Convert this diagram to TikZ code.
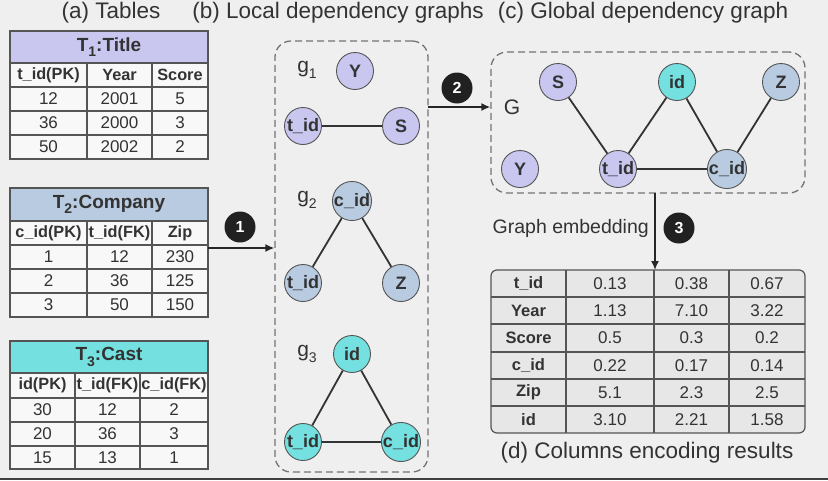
\documentclass[tikz,border=0pt]{standalone}
\usepackage{fontspec}
\setmainfont{Liberation Sans}
\usetikzlibrary{arrows.meta}

\definecolor{bgcol}{HTML}{EFEFEF}
\definecolor{lav}{HTML}{C9C7F0}
\definecolor{steel}{HTML}{B8CBE0}
\definecolor{aqua}{HTML}{74E0E0}
\definecolor{cellcol}{HTML}{F8F8F8}
\definecolor{rescol}{HTML}{E7E7E7}
\definecolor{linecol}{HTML}{555555}
\definecolor{txtcol}{HTML}{333333}

\newcommand{\lowidx}[2]{\raisebox{-0.3em}{\fontsize{#1}{#1}\selectfont #2}}

\tikzset{
	heading/.style={inner sep=0pt, text=txtcol, font=\fontsize{22.5}{22.5}\selectfont},
	glabel/.style={inner sep=0pt, text=txtcol, font=\fontsize{21}{21}\selectfont},
	ttitle/.style={inner sep=0pt, text=txtcol, font=\fontsize{19}{19}\selectfont\bfseries},
	thead/.style={inner sep=0pt, text=txtcol, font=\fontsize{16.3}{16.3}\selectfont\bfseries},
	tval/.style={inner sep=0pt, text=txtcol, font=\fontsize{17}{17}\selectfont},
	rule/.style={draw=linecol, line width=1.2pt},
	vert/.style={circle, draw=linecol, line width=0.9pt, minimum size=37pt, inner sep=0pt, text=txtcol, font=\fontsize{18}{18}\selectfont\bfseries},
	link/.style={draw=black!80, line width=1.8pt},
	groupbox/.style={draw=black!55, dashed, dash pattern=on 7pt off 4pt, line width=1.3pt, rounded corners=16pt, inner sep=0pt},
	flow/.style={draw=black!85, line width=1.6pt, -{Latex[length=9pt,width=8pt]}},
	num/.style={circle, fill=black!87, text=white, minimum size=31pt, inner sep=0pt, font=\fontsize{16}{16}\selectfont\bfseries}
}

\begin{document}
\begin{tikzpicture}[x=1pt,y=-1pt]
	\fill[bgcol] (0,0) rectangle (828,480);
	\useasboundingbox (0,0) rectangle (828,480);
	\fill[black!75] (0,477.5) rectangle (828,480);

	% captions
	\node[heading] (capa) at (111,13) {(a) Tables};
	\node[heading] (capb) at (338,13) {(b) Local dependency graphs};
	\node[heading] (capc) at (643,13) {(c) Global dependency graph};
	\node[heading] (capd) at (647,453) {(d) Columns encoding results};

	% table T1
	\fill[lav] (10,31) rectangle (208,63);
	\fill[cellcol] (10,63) rectangle (208,159);
	\draw[rule] (10,63) -- (208,63) (10,87) -- (208,87) (10,111) -- (208,111) (10,135) -- (208,135);
	\draw[rule] (87,63) -- (87,159) (152,63) -- (152,159);
	\draw[rule] (10,31) rectangle (208,159);
	\node[ttitle] (t1) at (109,47) {T\lowidx{14}{1}:Title};
	\node[thead] (t1h1) at (48.5,75) {t\_id(PK)};
	\node[thead] (t1h2) at (119.5,75) {Year};
	\node[thead] (t1h3) at (180,75) {Score};
	\node[tval] (t1a1) at (48.5,99) {12};  \node[tval] (t1a2) at (119.5,99) {2001};  \node[tval] (t1a3) at (180,99) {5};
	\node[tval] (t1b1) at (48.5,123) {36}; \node[tval] (t1b2) at (119.5,123) {2000}; \node[tval] (t1b3) at (180,123) {3};
	\node[tval] (t1c1) at (48.5,147) {50}; \node[tval] (t1c2) at (119.5,147) {2002}; \node[tval] (t1c3) at (180,147) {2};

	% table T2
	\fill[steel] (10,188) rectangle (208,221);
	\fill[cellcol] (10,221) rectangle (208,317);
	\draw[rule] (10,221) -- (208,221) (10,245) -- (208,245) (10,269) -- (208,269) (10,293) -- (208,293);
	\draw[rule] (87,221) -- (87,317) (152,221) -- (152,317);
	\draw[rule] (10,188) rectangle (208,317);
	\node[ttitle] (t2) at (109,204.5) {T\lowidx{14}{2}:Company};
	\node[thead] (t2h1) at (48.5,233) {c\_id(PK)};
	\node[thead] (t2h2) at (119.5,233) {t\_id(FK)};
	\node[thead] (t2h3) at (180,233) {Zip};
	\node[tval] (t2a1) at (48.5,257) {1}; \node[tval] (t2a2) at (119.5,257) {12}; \node[tval] (t2a3) at (180,257) {230};
	\node[tval] (t2b1) at (48.5,281) {2}; \node[tval] (t2b2) at (119.5,281) {36}; \node[tval] (t2b3) at (180,281) {125};
	\node[tval] (t2c1) at (48.5,305) {3}; \node[tval] (t2c2) at (119.5,305) {50}; \node[tval] (t2c3) at (180,305) {150};

	% table T3
	\fill[aqua] (10,341) rectangle (208,373);
	\fill[cellcol] (10,373) rectangle (208,469);
	\draw[rule] (10,373) -- (208,373) (10,398) -- (208,398) (10,422) -- (208,422) (10,446) -- (208,446);
	\draw[rule] (75,373) -- (75,469) (140,373) -- (140,469);
	\draw[rule] (10,341) rectangle (208,469);
	\node[ttitle] (t3) at (109,357) {T\lowidx{14}{3}:Cast};
	\node[thead] (t3h1) at (42.5,385.5) {id(PK)};
	\node[thead] (t3h2) at (107.5,385.5) {t\_id(FK)};
	\node[thead] (t3h3) at (174,385.5) {c\_id(FK)};
	\node[tval] (t3a1) at (42.5,410) {30};   \node[tval] (t3a2) at (107.5,410) {12};   \node[tval] (t3a3) at (174,410) {2};
	\node[tval] (t3b1) at (42.5,434) {20};   \node[tval] (t3b2) at (107.5,434) {36};   \node[tval] (t3b3) at (174,434) {3};
	\node[tval] (t3c1) at (42.5,457.5) {15}; \node[tval] (t3c2) at (107.5,457.5) {13}; \node[tval] (t3c3) at (174,457.5) {1};

	% local dependency graphs
	\node[groupbox, minimum width=153pt, minimum height=431pt] (local) at (351.5,256.5) {};
	\node[glabel] (lab1) at (307,70) {g\lowidx{14}{1}};
	\node[vert, fill=lav] (g1y) at (355,71) {Y};
	\node[vert, fill=lav] (g1t) at (303,126) {t\_id};
	\node[vert, fill=lav] (g1s) at (401,126) {S};
	\draw[link] (g1t) -- (g1s);

	\node[glabel] (lab2) at (307,200) {g\lowidx{14}{2}};
	\node[vert, fill=steel] (g2c) at (352,201) {c\_id};
	\node[vert, fill=steel] (g2t) at (303,283) {t\_id};
	\node[vert, fill=steel] (g2z) at (401,283) {Z};
	\draw[link] (g2c) -- (g2t) (g2c) -- (g2z);

	\node[glabel] (lab3) at (307,354) {g\lowidx{14}{3}};
	\node[vert, fill=aqua] (g3i) at (352,354) {id};
	\node[vert, fill=aqua] (g3t) at (303,442) {t\_id};
	\node[vert, fill=aqua] (g3c) at (401,442) {c\_id};
	\draw[link] (g3i) -- (g3t) (g3i) -- (g3c) (g3t) -- (g3c);

	% global dependency graph
	\node[groupbox, minimum width=314pt, minimum height=141pt] (glob) at (648,122.5) {};
	\node[glabel] (labG) at (512,107) {G};
	\node[vert, fill=lav] (gs) at (558,82) {S};
	\node[vert, fill=aqua] (gi) at (677,82) {id};
	\node[vert, fill=steel] (gz) at (781,82) {Z};
	\node[vert, fill=lav] (gy) at (520,169) {Y};
	\node[vert, fill=lav] (gt) at (618,169) {t\_id};
	\node[vert, fill=steel] (gc) at (727,169) {c\_id};
	\draw[link] (gs) -- (gt) (gt) -- (gi) (gi) -- (gc) (gc) -- (gz) (gt) -- (gc);

	% arrows and steps
	\coordinate (a1) at (208,248);
	\coordinate (a2) at (428,107);
	\coordinate (a3) at (655,193);
	\coordinate (rtop) at (648,270);
	\draw[flow] (a1) -- (a1 -| local.west);
	\draw[flow] (a2) -- (a2 -| glob.west);
	\draw[flow] (a3) -- (a3 |- rtop);
	\node[num] (n1) at (240,227) {1};
	\node[num] (n2) at (457,88) {2};
	\node[num] (n3) at (679,228) {3};
	\node[glabel, font=\fontsize{19.5}{19.5}\selectfont, anchor=east] (emb) at (649,228) {Graph embedding};

	% encoding results
	\fill[rescol, rounded corners=6pt] (491,270) rectangle (805,433);
	\draw[rule] (491,297) -- (805,297) (491,324) -- (805,324) (491,352) -- (805,352) (491,379) -- (805,379) (491,406) -- (805,406);
	\draw[rule] (566,270) -- (566,433) (654,270) -- (654,433) (729,270) -- (729,433);
	\draw[rule, rounded corners=6pt] (491,270) rectangle (805,433);
	\node[thead, font=\fontsize{16.5}{16.5}\selectfont\bfseries] (r1) at (528.5,283.5) {t\_id};
	\node[thead, font=\fontsize{16.5}{16.5}\selectfont\bfseries] (r2) at (528.5,310.5) {Year};
	\node[thead, font=\fontsize{16.5}{16.5}\selectfont\bfseries] (r3) at (528.5,338) {Score};
	\node[thead, font=\fontsize{16.5}{16.5}\selectfont\bfseries] (r4) at (528.5,365.5) {c\_id};
	\node[thead, font=\fontsize{16.5}{16.5}\selectfont\bfseries] (r5) at (528.5,392.5) {Zip};
	\node[thead, font=\fontsize{16.5}{16.5}\selectfont\bfseries] (r6) at (528.5,419.5) {id};
	\node[tval] (r1a) at (610,283.5) {0.13}; \node[tval] (r1b) at (691.5,283.5) {0.38}; \node[tval] (r1c) at (767,283.5) {0.67};
	\node[tval] (r2a) at (610,310.5) {1.13}; \node[tval] (r2b) at (691.5,310.5) {7.10}; \node[tval] (r2c) at (767,310.5) {3.22};
	\node[tval] (r3a) at (610,338) {0.5};    \node[tval] (r3b) at (691.5,338) {0.3};    \node[tval] (r3c) at (767,338) {0.2};
	\node[tval] (r4a) at (610,365.5) {0.22}; \node[tval] (r4b) at (691.5,365.5) {0.17}; \node[tval] (r4c) at (767,365.5) {0.14};
	\node[tval] (r5a) at (610,392.5) {5.1};  \node[tval] (r5b) at (691.5,392.5) {2.3};  \node[tval] (r5c) at (767,392.5) {2.5};
	\node[tval] (r6a) at (610,419.5) {3.10}; \node[tval] (r6b) at (691.5,419.5) {2.21}; \node[tval] (r6c) at (767,419.5) {1.58};
\end{tikzpicture}
\end{document}
